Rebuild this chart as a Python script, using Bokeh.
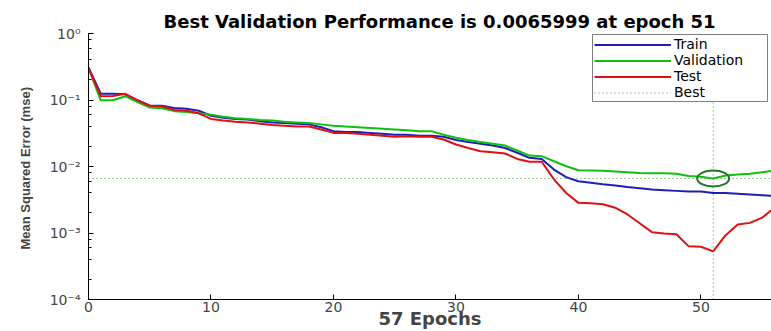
from bokeh.plotting import figure
from bokeh.models import Range1d, FixedTicker, LogTicker, CustomJSTickFormatter, Legend, LegendItem
from bokeh.embed import file_html
from bokeh.resources import INLINE

# ---- data ----
epochs = list(range(57))
train = [0.31, 0.124, 0.124, 0.122, 0.099, 0.083, 0.082, 0.076, 0.074, 0.069,
         0.058, 0.054, 0.052, 0.051, 0.048, 0.046, 0.045, 0.044, 0.043, 0.039,
         0.034, 0.033, 0.033, 0.032, 0.031, 0.030, 0.030, 0.029, 0.029, 0.028,
         0.025, 0.0234, 0.022, 0.0207, 0.019, 0.0161, 0.0135, 0.013, 0.009, 0.0069,
         0.0060, 0.0057, 0.0054, 0.0052, 0.0049, 0.0047, 0.0045, 0.0044, 0.0043, 0.0042,
         0.0042, 0.0040, 0.0040, 0.0039, 0.0038, 0.0037, 0.0036]
validation = [0.30, 0.099, 0.099, 0.114, 0.093, 0.077, 0.075, 0.068, 0.066, 0.063,
              0.060, 0.056, 0.053, 0.052, 0.050, 0.049, 0.047, 0.046, 0.045, 0.043,
              0.041, 0.040, 0.039, 0.038, 0.037, 0.036, 0.035, 0.034, 0.034, 0.030,
              0.027, 0.025, 0.0233, 0.022, 0.0207, 0.0174, 0.0146, 0.0143, 0.012, 0.0101,
              0.0088, 0.0087, 0.0086, 0.0084, 0.0082, 0.0080, 0.0079, 0.0079, 0.0078, 0.0072,
              0.0070, 0.0065999, 0.0073, 0.0076, 0.0078, 0.0082, 0.0087]
test = [0.30, 0.114, 0.115, 0.124, 0.099, 0.082, 0.080, 0.071, 0.069, 0.063,
        0.052, 0.049, 0.047, 0.046, 0.044, 0.042, 0.041, 0.040, 0.040, 0.036,
        0.032, 0.032, 0.031, 0.030, 0.029, 0.028, 0.0286, 0.028, 0.028, 0.0255,
        0.0214, 0.019, 0.017, 0.0164, 0.0157, 0.013, 0.0118, 0.0118, 0.0064, 0.0040,
        0.00284, 0.0028, 0.0027, 0.0024, 0.0019, 0.0014, 0.00103, 0.00098, 0.00096, 0.00063,
        0.00062, 0.00053, 0.00092, 0.00134, 0.00142, 0.0017, 0.0024]
best_epoch = 51
best_perf = 0.0065999
n_epochs = 57
x_ticks = [0, 10, 20, 30, 40, 50]
y_tick_labels = ["10\u207b\u2074", "10\u207b\u00b3", "10\u207b\u00b2", "10\u207b\u00b9", "10\u2070"]
y_min, y_max = 1e-4, 1.0
x_view_end = 55.76

title_text = "Best Validation Performance is %s at epoch %d" % (best_perf, best_epoch)

p = figure(width=771, height=331, output_backend="svg", toolbar_location=None,
           y_axis_type="log", x_range=Range1d(0, x_view_end), y_range=Range1d(y_min, y_max),
           min_border_left=88, min_border_right=0, min_border_top=33, min_border_bottom=30,
           title=title_text)
p.outline_line_color = None
p.grid.visible = False
p.background_fill_color = "white"
p.border_fill_color = "white"

p.title.align = "left"
p.title.offset = 75
p.title.standoff = 3
p.title.text_font = "DejaVu Sans"
p.title.text_font_size = "18px"
p.title.text_font_style = "bold"
p.title.text_color = "black"

# axes
for ax in (p.xaxis[0], p.yaxis[0]):
    ax.axis_line_color = "black"
    ax.major_tick_line_color = "black"
    ax.minor_tick_line_color = "black"
    ax.major_tick_in = 5
    ax.major_tick_out = 0
    ax.minor_tick_in = 3
    ax.minor_tick_out = 0
    ax.major_label_text_font = "DejaVu Sans"
    ax.major_label_text_font_size = "14px"
    ax.major_label_text_color = "#444444"

p.xaxis.ticker = FixedTicker(ticks=x_ticks)
p.xaxis.minor_tick_line_color = None
p.xaxis.major_label_standoff = 2
p.xaxis.axis_label = "%d Epochs" % n_epochs
p.xaxis.axis_label_text_font = "DejaVu Sans"
p.xaxis.axis_label_text_font_size = "18px"
p.xaxis.axis_label_text_font_style = "bold"
p.xaxis.axis_label_standoff = -7

p.yaxis.ticker = LogTicker()
p.yaxis.formatter = CustomJSTickFormatter(args=dict(labels=y_tick_labels),
                                          code="return labels[Math.round(Math.log10(tick)) + 4];")
p.yaxis.major_label_standoff = 8
p.yaxis.axis_label = "Mean Squared Error  (mse)"
p.yaxis.axis_label_text_font = "Liberation Sans"
p.yaxis.axis_label_text_font_size = "13px"
p.yaxis.axis_label_text_font_style = "bold"
p.yaxis.axis_label_standoff = 14

r_train = p.line(epochs, train, line_color="#1f1fb4", line_width=2)
r_val = p.line(epochs, validation, line_color="#10c010", line_width=2)
r_test = p.line(epochs, test, line_color="#e01010", line_width=2)
best_color = "#33a033"
r_best = p.line([0, n_epochs], [best_perf, best_perf], line_color=best_color,
                line_dash="1 3", line_width=1)
p.line([best_epoch, best_epoch], [y_min, y_max], line_color=best_color,
       line_dash="1 3", line_width=1)
p.ellipse(x=[best_epoch], y=[best_perf], width=32, height=16,
          width_units="screen", height_units="screen",
          fill_color=None, line_color="#1c7a1c", line_width=2)

legend = Legend(items=[LegendItem(label="Train", renderers=[r_train]),
                       LegendItem(label="Validation", renderers=[r_val]),
                       LegendItem(label="Test", renderers=[r_test]),
                       LegendItem(label="Best", renderers=[r_best])],
                location=(504, 197))
legend.padding = 1
legend.margin = 0
legend.spacing = 0
legend.glyph_width = 77
legend.glyph_height = 15
legend.label_height = 15
legend.label_width = 92
legend.label_standoff = 3
legend.label_text_font = "DejaVu Sans"
legend.label_text_font_size = "14px"
legend.label_text_color = "black"
legend.border_line_color = "black"
legend.border_line_width = 1
legend.background_fill_color = "white"
legend.background_fill_alpha = 1
p.add_layout(legend)

open("out.html", "w").write(file_html(p, INLINE))
